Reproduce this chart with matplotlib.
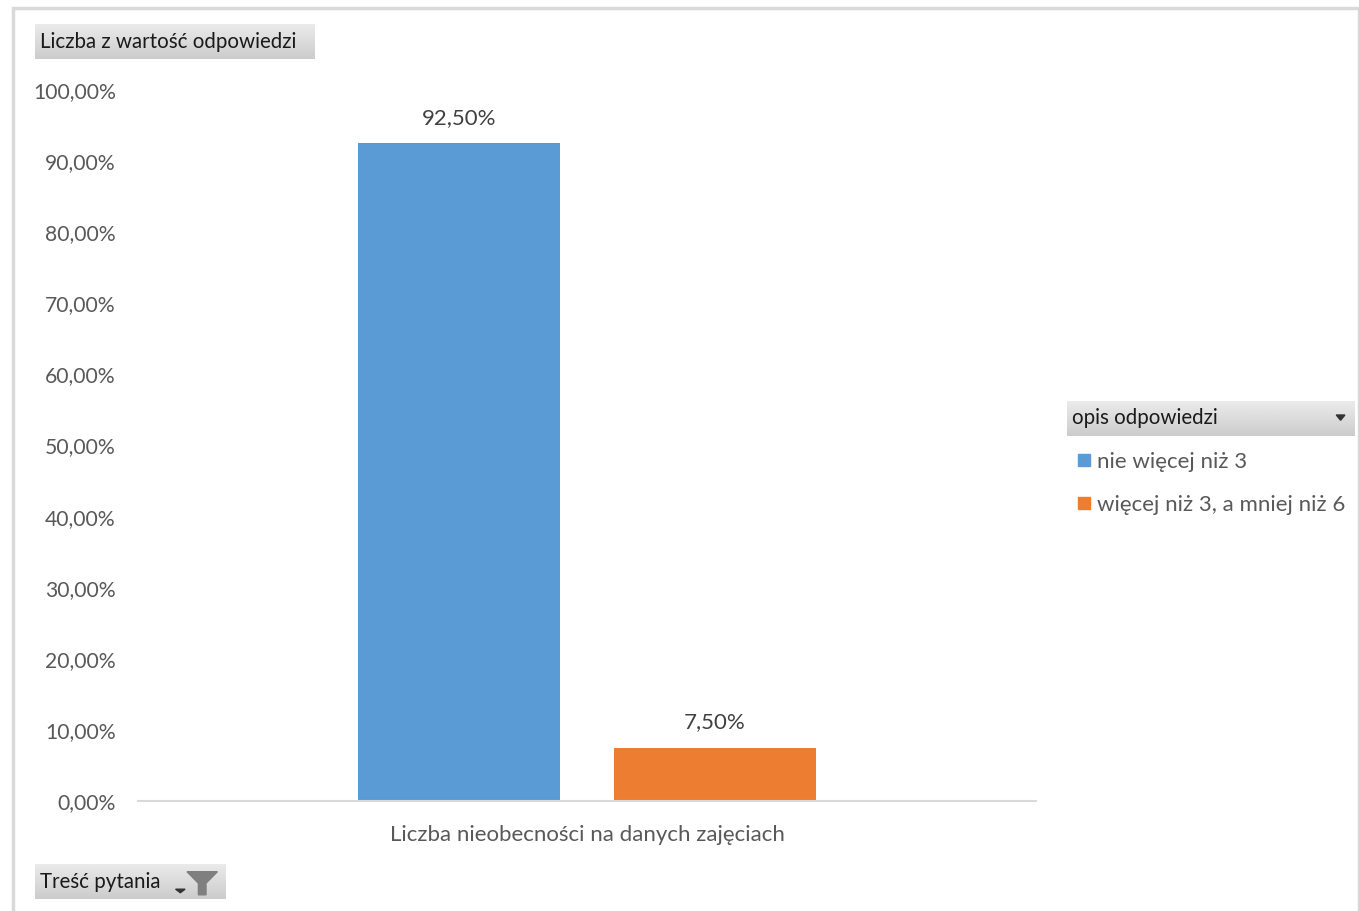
import numpy as np
import matplotlib
matplotlib.use("Agg")
import matplotlib.pyplot as plt
from matplotlib.patches import Rectangle, Polygon
from matplotlib.lines import Line2D

plt.rcParams['font.family'] = ['Lato', 'DejaVu Sans']

# --- dane ---
kategoria = "Liczba nieobecności na danych zajęciach"
serie = ["nie więcej niż 3", "więcej niż 3, a mniej niż 6"]
wartosci = [0.925, 0.075]
kolory = ["#5B9BD5", "#ED7D31"]
yticks = [0.0, 0.1, 0.2, 0.3, 0.4, 0.5, 0.6, 0.7, 0.8, 0.9, 1.0]

W, H = 1359, 911
fig = plt.figure(figsize=(W / 100, H / 100), dpi=100)
GRAY = "#595959"


def fx(px):
    return px / W


def fy(py):
    return 1 - py / H


def pl(v, dec=2):
    return f"{v * 100:.{dec}f}%".replace(".", ",")


# ramka wykresu
fig.patches.append(Rectangle((fx(13), fy(930)), fx(1346), fy(8) - fy(930),
                             transform=fig.transFigure, fill=False,
                             edgecolor="#D9D9D9", linewidth=2.5))

# --- wykres ---
ax = fig.add_axes([fx(138), fy(801), fx(1036) - fx(138), fy(90) - fy(801)])
offs = [-0.1425, 0.1425]
for nazwa, v, k, o in zip(serie, wartosci, kolory, offs):
    b = ax.bar(o, v, width=0.225, color=k, label=nazwa)
    ax.bar_label(b, labels=[pl(v)], padding=11, fontsize=16, color="#404040")

ax.set_xlim(-0.5, 0.5)
ax.set_ylim(0, 1)
ax.set_yticks(yticks)
ax.set_yticklabels([pl(t) for t in yticks], fontsize=15.2, color=GRAY)
ax.set_xticks([0])
ax.set_xticklabels([kategoria], fontsize=16, color=GRAY)
ax.tick_params(length=0)
ax.tick_params(axis='y', pad=16)
ax.tick_params(axis='x', pad=17)
for s in ["top", "right", "left"]:
    ax.spines[s].set_visible(False)
ax.spines["bottom"].set_color("#D9D9D9")
ax.spines["bottom"].set_linewidth(1.5)


# --- szare przyciski pola ---
def przycisk(x0, y0, x1, y1, tekst):
    bax = fig.add_axes([fx(x0), fy(y1), fx(x1) - fx(x0), fy(y0) - fy(y1)])
    grad = np.linspace(0.92, 0.80, 50).reshape(-1, 1)
    bax.imshow(grad, cmap="gray", vmin=0, vmax=1, aspect="auto",
               extent=[0, 1, 0, 1], origin="upper")
    bax.set_xlim(0, 1)
    bax.set_ylim(0, 1)
    bax.axis("off")
    bax.text(5 / (x1 - x0), 0.5, tekst, fontsize=14.8,
             color="#1a1a1a", va="center", ha="left")
    return bax


przycisk(35, 24, 315, 59, "Liczba z wartość odpowiedzi")
bl = przycisk(1067, 401, 1355, 436, "opis odpowiedzi")
bl.add_patch(Polygon([[0.935, 0.6], [0.965, 0.6], [0.95, 0.45]], closed=True,
                     color="#333333"))
bt = przycisk(35, 864, 225, 899, "Treść pytania")
# lejek filtra
bt.add_patch(Polygon([[0.8, 0.78], [0.96, 0.78], [0.9, 0.45], [0.9, 0.12],
                      [0.86, 0.12], [0.86, 0.45]], closed=True, color="#7f7f7f"))
bt.add_patch(Polygon([[0.74, 0.28], [0.79, 0.28], [0.765, 0.18]], closed=True,
                     color="#333333"))

# --- legenda ---
uchwyty = [Line2D([], [], marker="s", linestyle="", markersize=9,
                  color=k) for k in kolory]
fig.legend(uchwyty, serie, loc="upper left",
           bbox_to_anchor=(fx(1068), fy(443)), frameon=False,
           fontsize=16, labelcolor=GRAY, handlelength=0.6,
           handletextpad=0.3, labelspacing=1.05, borderaxespad=0)

fig.savefig("out.png", dpi=100)
